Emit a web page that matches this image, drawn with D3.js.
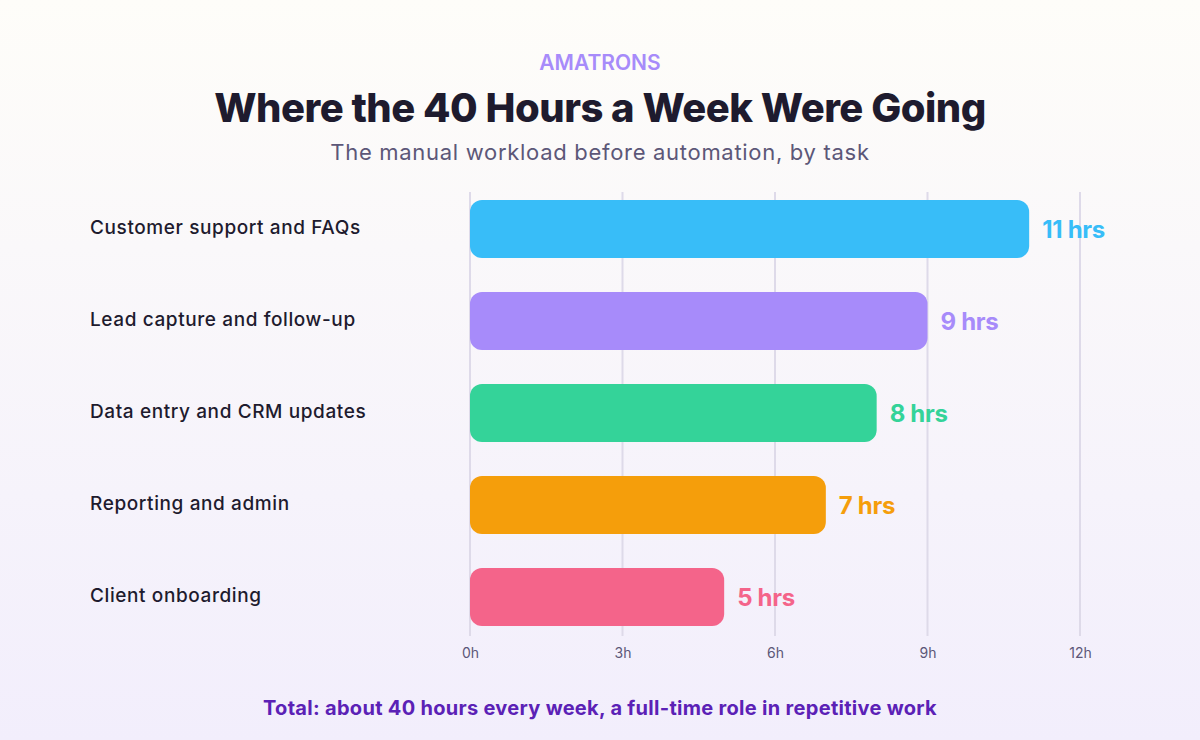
<!DOCTYPE html>
<html>
<head>
<meta charset="utf-8">
<script src="https://cdn.jsdelivr.net/npm/d3@7"></script>
<style>
  html, body { margin: 0; padding: 0; }
  body { width: 1200px; height: 740px; overflow: hidden; }
  svg { display: block; font-family: Inter, "Open Sans", sans-serif; }
</style>
</head>
<body>
<svg id="chart" width="1200" height="740"></svg>
<script>
// chart data
var tasks = [ 'Customer support and FAQs', 'Lead capture and follow-up', 'Data entry and CRM updates', 'Reporting and admin', 'Client onboarding' ];
var hours = [ 11, 9, 8, 7, 5 ];
var barColors = [ '#38bdf8', '#a78bfa', '#34d399', '#f59e0b', '#f4648a' ];
var tickValues = [ 0, 3, 6, 9, 12 ];

var svg = d3.select( '#chart' );

// background gradient
var defs = svg.append( 'defs' );
var bg = defs.append( 'linearGradient' )
    .attr( 'id', 'bgGrad' )
    .attr( 'x1', 0 ).attr( 'y1', 0 )
    .attr( 'x2', 0 ).attr( 'y2', 1 );
bg.append( 'stop' ).attr( 'offset', '0%' ).attr( 'stop-color', '#fefdf9' );
bg.append( 'stop' ).attr( 'offset', '100%' ).attr( 'stop-color', '#f2eefc' );

svg.append( 'rect' )
    .attr( 'width', 1200 )
    .attr( 'height', 740 )
    .attr( 'fill', 'url(#bgGrad)' );

// header
svg.append( 'text' )
    .attr( 'x', 600 ).attr( 'y', 70 )
    .attr( 'text-anchor', 'middle' )
    .attr( 'fill', '#a78bfa' )
    .attr( 'font-size', 21 )
    .attr( 'font-weight', 600 )
    .text( 'AMATRONS' );

svg.append( 'text' )
    .attr( 'x', 600 ).attr( 'y', 122 )
    .attr( 'text-anchor', 'middle' )
    .attr( 'fill', '#1e1b2e' )
    .attr( 'font-size', 40 )
    .attr( 'font-weight', 800 )
    .attr( 'letter-spacing', -0.5 )
    .text( 'Where the 40 Hours a Week Were Going' );

svg.append( 'text' )
    .attr( 'x', 600 ).attr( 'y', 160 )
    .attr( 'text-anchor', 'middle' )
    .attr( 'fill', '#5c5778' )
    .attr( 'font-size', 22 )
    .attr( 'letter-spacing', 0.7 )
    .text( 'The manual workload before automation, by task' );

// scales
var x = d3.scaleLinear()
    .domain( [ 0, 12 ] )
    .range( [ 470, 1080 ] );

var y = d3.scaleBand()
    .domain( tasks )
    .range( [ 183, 643 ] )
    .paddingInner( 0.37 )
    .paddingOuter( 0.185 );

// grid
svg.append( 'g' )
    .selectAll( 'line' )
    .data( tickValues )
    .join( 'line' )
    .attr( 'x1', function ( d ) { return x( d ); } )
    .attr( 'x2', function ( d ) { return x( d ); } )
    .attr( 'y1', 192 )
    .attr( 'y2', 636 )
    .attr( 'stroke', '#dedae9' )
    .attr( 'stroke-width', 2 );

// x axis labels
var xAxis = d3.axisBottom( x )
    .tickValues( tickValues )
    .tickSize( 0 )
    .tickPadding( 0 )
    .tickFormat( function ( d ) { return d + 'h'; } );

var axisG = svg.append( 'g' )
    .attr( 'transform', 'translate(0,648)' )
    .call( xAxis );
axisG.select( '.domain' ).remove();
axisG.selectAll( 'text' )
    .attr( 'font-family', 'Inter, sans-serif' )
    .attr( 'font-size', 14 )
    .attr( 'fill', '#5c5778' );

// bars
var rows = svg.append( 'g' )
    .selectAll( 'g' )
    .data( tasks )
    .join( 'g' );

rows.append( 'rect' )
    .attr( 'x', x( 0 ) )
    .attr( 'y', function ( d ) { return y( d ); } )
    .attr( 'width', function ( d, i ) { return x( hours[ i ] ) - x( 0 ); } )
    .attr( 'height', y.bandwidth() )
    .attr( 'rx', 12 )
    .attr( 'ry', 12 )
    .attr( 'fill', function ( d, i ) { return barColors[ i ]; } );

// category labels
rows.append( 'text' )
    .attr( 'x', 90 )
    .attr( 'y', function ( d ) { return y( d ) + y.bandwidth() / 2 - 2; } )
    .attr( 'dy', '0.35em' )
    .attr( 'fill', '#1e1b2e' )
    .attr( 'font-size', 19 )
    .attr( 'font-weight', 500 )
    .attr( 'letter-spacing', 0.6 )
    .text( function ( d ) { return d; } );

// value labels
rows.append( 'text' )
    .attr( 'x', function ( d, i ) { return x( hours[ i ] ) + 13; } )
    .attr( 'y', function ( d ) { return y( d ) + y.bandwidth() / 2 + 1; } )
    .attr( 'dy', '0.35em' )
    .attr( 'fill', function ( d, i ) { return barColors[ i ]; } )
    .attr( 'font-size', 24 )
    .attr( 'font-weight', 700 )
    .attr( 'letter-spacing', -0.3 )
    .text( function ( d, i ) { return hours[ i ] + ' hrs'; } );

// footer
svg.append( 'text' )
    .attr( 'x', 600 ).attr( 'y', 715 )
    .attr( 'text-anchor', 'middle' )
    .attr( 'fill', '#5b21b6' )
    .attr( 'font-size', 20 )
    .attr( 'font-weight', 700 )
    .attr( 'letter-spacing', 0.3 )
    .text( 'Total: about 40 hours every week, a full-time role in repetitive work' );
</script>
</body>
</html>
